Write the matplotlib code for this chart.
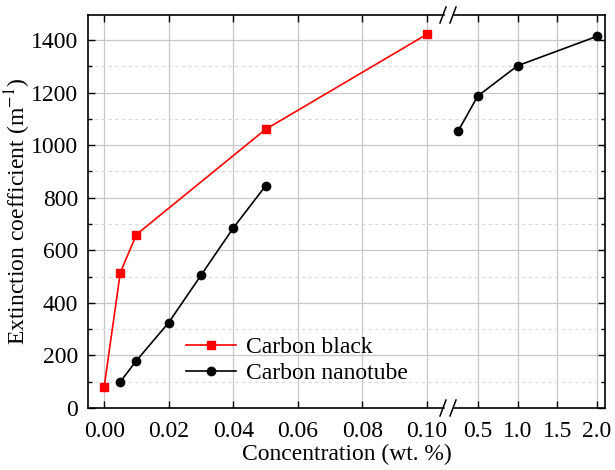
import numpy as np
import matplotlib
matplotlib.use("Agg")
from matplotlib import pyplot as plt
from matplotlib.scale import FuncScale
from matplotlib.ticker import FixedLocator, FixedFormatter, MultipleLocator

plt.rcParams["font.family"] = ["Liberation Serif", "DejaVu Serif"]
plt.rcParams["mathtext.fontset"] = "stix"

# data
cb_x = [0.0, 0.005, 0.01, 0.05, 0.10]
cb_y = [80, 515, 660, 1060, 1422]

cnt_low_x = [0.005, 0.01, 0.02, 0.03, 0.04, 0.05]
cnt_low_y = [100, 180, 325, 505, 685, 845]
cnt_high_x = [0.25, 0.5, 1.0, 2.0]
cnt_high_y = [1052, 1187, 1302, 1414]

x_ticks = [0.0, 0.02, 0.04, 0.06, 0.08, 0.10, 0.5, 1.0, 1.5, 2.0]
x_tick_labels = ["0.00", "0.02", "0.04", "0.06", "0.08", "0.10", "0.5", "1.0", "1.5", "2.0"]

# broken x scale (piecewise linear)
xb1, xb2 = 0.1065, 0.125
k1, k2 = 3225.0, 79.4
xp = np.array([-10.0, xb1, xb2, 10.0])
up = np.array([-10.0 * k1, xb1 * k1, xb1 * k1 + 1e-6, xb1 * k1 + 1e-6 + (10.0 - xb2) * k2])

def fwd(x):
    return np.interp(x, xp, up)

def inv(u):
    return np.interp(u, up, xp)

fs = 17

fig = plt.figure(figsize=(6.15, 4.70), dpi=100)
ax = fig.add_axes([88 / 615, 1 - 408 / 470, 517 / 615, 393 / 470])
ax.set_xscale(FuncScale(ax, (fwd, inv)))
ax.set_xlim(-0.005, 2.1)
ax.set_ylim(0, 1495)

ax.plot(cb_x, cb_y, color="#ff0000", marker="s", markersize=5.2, linewidth=1.2,
        label="Carbon black", zorder=3)
ax.plot(cnt_low_x, cnt_low_y, color="black", marker="o", markersize=6, linewidth=1.2,
        label="Carbon nanotube", zorder=3)
ax.plot(cnt_high_x, cnt_high_y, color="black", marker="o", markersize=6, linewidth=1.2,
        zorder=3)

ax.xaxis.set_major_locator(FixedLocator(x_ticks))
ax.xaxis.set_major_formatter(FixedFormatter(x_tick_labels))
ax.xaxis.set_minor_locator(FixedLocator([]))
ax.yaxis.set_major_locator(MultipleLocator(200))
ax.yaxis.set_minor_locator(MultipleLocator(100))

ax.tick_params(which="both", direction="in", top=True, right=True, labelsize=fs,
               width=1.0)
ax.tick_params(axis="x", pad=9.5)
ax.tick_params(axis="y", pad=7)
ax.tick_params(which="major", length=5)
ax.tick_params(which="minor", length=3)

ax.grid(True, which="major", color="#c8c8c8", linewidth=0.9)
ax.grid(True, which="minor", axis="y", color="#d8d8d8", linewidth=0.8, linestyle=(0, (3, 3)))
ax.set_axisbelow(True)
for s in ax.spines.values():
    s.set_linewidth(1.2)

ax.set_xlabel("Concentration (wt. %)", fontsize=fs, labelpad=1)
ax.set_ylabel("Extinction coefficient (m$^{-1}$)", fontsize=fs, labelpad=-1.5)

leg = ax.legend(loc="upper left", bbox_to_anchor=(0.19, 0.182), frameon=False,
                fontsize=fs, handlelength=2.1, handletextpad=0.45, labelspacing=0.2,
                borderpad=0, borderaxespad=0)

# break marks on top and bottom spines
bx = (fwd(xb1) - fwd(-0.005)) / (fwd(2.1) - fwd(-0.005))
dx = 5 / 517
for yb in (0.0, 1.0):
    ax.plot([bx - dx * 0.5, bx + dx * 0.5], [yb, yb], transform=ax.transAxes,
            color="white", linewidth=2.5, clip_on=False, zorder=5)
    for off in (-dx, dx):
        ax.plot([bx + off - 3 / 517, bx + off + 3 / 517], [yb - 8 / 393, yb + 8 / 393],
                transform=ax.transAxes, color="black", linewidth=1.1, clip_on=False, zorder=6)

fig.savefig("out.png", dpi=100)
